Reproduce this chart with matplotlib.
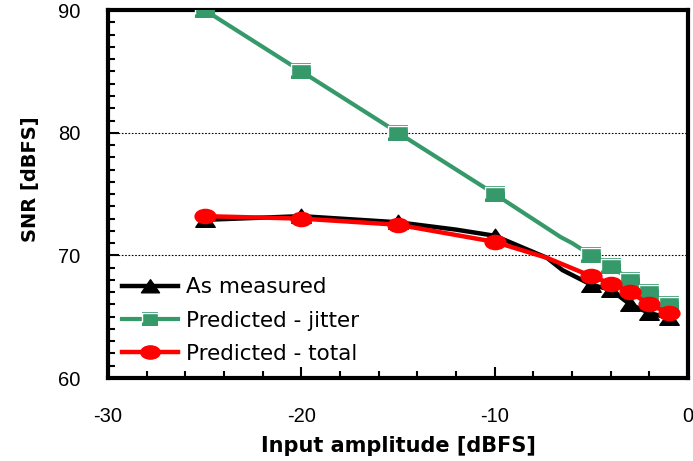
import matplotlib
matplotlib.use('Agg')
import matplotlib.pyplot as plt
from matplotlib.path import Path
from matplotlib.ticker import MultipleLocator

plt.rcParams['font.family'] = ['Liberation Sans', 'DejaVu Sans']
plt.rcParams['axes.unicode_minus'] = False

# marker points
amp = [-25, -20, -15, -10, -5, -4, -3, -2, -1]
snr_measured = [72.9, 73.2, 72.7, 71.6, 67.6, 67.2, 66.0, 65.3, 64.9]
snr_jitter = [90.0, 85.0, 80.0, 75.0, 70.0, 69.1, 68.0, 67.0, 66.0]
snr_total = [73.2, 73.0, 72.5, 71.1, 68.3, 67.7, 67.0, 66.0, 65.3]

# curve points (smoothed lines in the original)
amp_measured_line = [-25, -20, -15, -12, -10, -7.3, -6.5, -5, -4, -3, -2, -1]
snr_measured_line = [72.9, 73.2, 72.7, 72.1, 71.6, 69.8, 68.8, 67.6, 67.2, 66.0, 65.3, 64.9]
amp_jitter_line = [-25, -20, -15, -10, -6.6, -6.0, -5, -4, -3, -2, -1]
snr_jitter_line = [90.0, 85.0, 80.0, 75.0, 71.5, 71.0, 70.0, 69.1, 68.0, 67.0, 66.0]
amp_total_line = [-25, -20, -15, -10, -7.3, -5, -4, -3, -2, -1]
snr_total_line = [73.2, 73.0, 72.5, 71.1, 69.8, 68.3, 67.7, 67.0, 66.0, 65.3]

green = '#35996a'
wide_font = ['DejaVu Sans']

ellipse = Path(Path.unit_circle().vertices * [1.0, 0.68], Path.unit_circle().codes)
tri = Path([(-1, -0.7), (0, 0.75), (1, -0.7), (-1, -0.7)],
           [Path.MOVETO, Path.LINETO, Path.LINETO, Path.CLOSEPOLY])
rect = Path([(-1, -0.8), (1, -0.8), (1, 0.8), (-1, 0.8), (-1, -0.8)],
            [Path.MOVETO, Path.LINETO, Path.LINETO, Path.LINETO, Path.CLOSEPOLY])
hilite = Path([(-0.72, -0.3), (-0.72, 0.55), (0.72, 0.55), (0.72, 0.25)],
              [Path.MOVETO, Path.LINETO, Path.LINETO, Path.LINETO])

fig = plt.figure(figsize=(6.93, 4.61), dpi=100)
ax = fig.add_axes([0.156, 0.180, 0.837, 0.798])

ax.plot(amp_measured_line, snr_measured_line, color='black', lw=3.2, zorder=3)
ax.plot(amp, snr_measured, ls='none', marker=tri, ms=14, color='black', zorder=4)
ax.plot(amp_jitter_line, snr_jitter_line, color=green, lw=3, zorder=3)
ax.plot(amp, snr_jitter, ls='none', marker=rect, ms=14, color=green, mew=0, zorder=4)
ax.plot(amp, snr_jitter, ls='none', marker=hilite, ms=14, mfc='none',
        mec='white', mew=1.0, zorder=5)
ax.plot(amp_total_line, snr_total_line, color='red', lw=3.2, zorder=6)
ax.plot(amp, snr_total, ls='none', marker=ellipse, ms=15, color='red', zorder=7)

l1, = ax.plot([], [], color='black', lw=3.2, marker=tri, ms=13)
l2, = ax.plot([], [], color=green, lw=3, marker=rect, ms=12, mew=0)
l2h, = ax.plot([], [], ls='none', marker=hilite, ms=12, mfc='none', mec='white', mew=1.0)
l3, = ax.plot([], [], color='red', lw=3.2, marker=ellipse, ms=14)

ax.set_xlim(-30, 0)
ax.set_ylim(60, 90)
ax.xaxis.set_major_locator(MultipleLocator(10))
ax.xaxis.set_minor_locator(MultipleLocator(2))
ax.yaxis.set_major_locator(MultipleLocator(10))
ax.yaxis.set_minor_locator(MultipleLocator(1))
ax.tick_params(which='both', direction='in', width=1.5, labelsize=14.5)
ax.tick_params(which='major', length=8)
ax.tick_params(which='minor', length=5)
ax.tick_params(axis='x', pad=21)
ax.tick_params(axis='y', pad=20)
for lbl in ax.get_yticklabels():
    lbl.set_verticalalignment('center_baseline')
for s in ax.spines.values():
    s.set_linewidth(3)

ax.grid(axis='y', which='major', color='black', ls=(0, (1.5, 1.5)), lw=0.8)

ax.set_xlabel('Input amplitude [dBFS]', fontsize=15, fontweight='bold',
              family=wide_font, labelpad=7)
ax.set_ylabel('SNR [dBFS]', fontsize=14, fontweight='bold', family=wide_font)
ax.yaxis.set_label_coords(-0.118, 0.54)

ax.legend([l1, (l2, l2h), l3],
          ['As measured', 'Predicted - jitter', 'Predicted - total'],
          loc='lower left', bbox_to_anchor=(0.0, 0.0), frameon=False,
          prop={'family': wide_font, 'size': 15.5},
          handlelength=2.6, handletextpad=0.35, labelspacing=0.62,
          borderaxespad=0.25)

fig.savefig('out.png', dpi=100)
